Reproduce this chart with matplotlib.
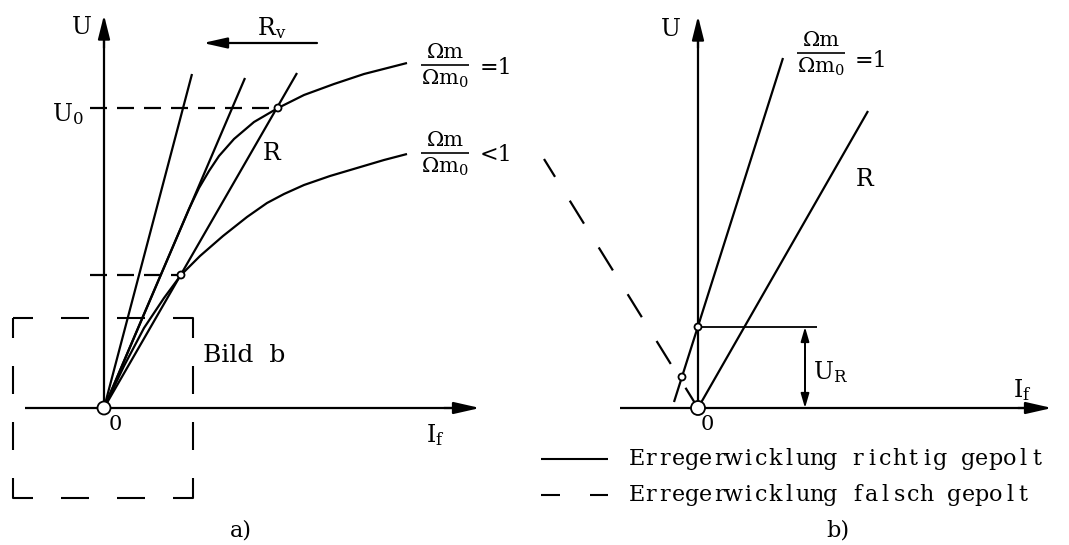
import matplotlib
matplotlib.use("Agg")
import matplotlib.pyplot as plt
from matplotlib.patches import Circle

plt.rcParams['font.family'] = 'DejaVu Serif'
plt.rcParams['mathtext.fontset'] = 'dejavuserif'
plt.rcParams['lines.scale_dashes'] = False
plt.rcParams['lines.solid_capstyle'] = 'butt'
plt.rcParams['lines.dash_capstyle'] = 'butt'

W, H = 1069, 545
PX = 0.72          # points per pixel at 100 dpi
LW = 1.6
FS = 17

# -----------------------
# a) Leerlaufkennlinien (Einheit: px ab Ursprung)
# -----------------------
U0 = 300            # Arbeitspunkt R
I_R = 174
U_low = 133         # Schnittpunkt bei Omega_m/Omega_m0 < 1
I_low = 77

# Widerstandsgeraden (Endpunkte), von steil nach flach
rv_end_I = [88, 141, 193]
rv_end_U = [334, 330, 335]

# Kennlinie Omega_m/Omega_m0 = 1
curve1_I = [0, 40, 85, 95, 105, 115, 130, 150, 174, 200, 230, 260, 303]
curve1_U = [0, 94, 199, 220, 237, 252, 269, 286, 300, 313, 324, 334, 345]

# Kennlinie Omega_m/Omega_m0 < 1
curve2_I = [0, 20, 40, 60, 77, 96, 119, 143, 163, 180, 200, 226, 253, 280, 303]
curve2_U = [0, 42, 80, 110, 133, 152, 172, 191, 205, 214, 223, 232, 240, 248, 254]

# Ausschnitt "Bild b"
box_half = 90

# -----------------------
# b) Selbsterregung aus Remanenz
# -----------------------
U_R = 81
field_I = [-24, 85]         # Omega_m/Omega_m0 = 1
field_U = [6, 350]
r_line_I = [0, 170]
r_line_U = [0, 297]
wrong_I = [-154, 0]         # falsch gepolt
wrong_U = [249, 0]
pt_b_I = [0, -16]
pt_b_U = [U_R, 31]
ur_line_end = 119
ur_dim_x = 107

legend_labels = ['Erregerwicklung richtig gepolt', 'Erregerwicklung falsch gepolt']

fig = plt.figure(figsize=(W / 100, H / 100), dpi=100)


def panel(ox, oy):
    ax = fig.add_axes([0, 0, 1, 1])
    ax.set_xlim(-ox, W - ox)
    ax.set_ylim(-(H - oy), oy)
    ax.set_facecolor('none')
    ax.axis('off')
    return ax


def arrow(ax, start, tip, length, half_width, lw=LW):
    style = '-|>,head_length=%.3f,head_width=%.3f' % (length * PX / 10, half_width * PX / 10)
    ax.annotate('', xy=tip, xytext=start,
                arrowprops=dict(arrowstyle=style, mutation_scale=10, lw=lw,
                                color='k', shrinkA=0, shrinkB=0))


def dot(ax, x, y, r, lw=1.3):
    ax.add_patch(Circle((x, y), r, fc='white', ec='k', lw=lw, zorder=6))


def dashes(on, off):
    return (0, (on * PX, off * PX))


def fraction(ax, x, y, half_width=24, size=15):
    # Omega_m / Omega_m0 as stacked text with a bar
    ax.text(x, y + 12, 'Ωm', fontsize=size, ha='center', va='center')
    ax.plot([x - half_width, x + half_width], [y, y], color='k', lw=1.2)
    ax.text(x, y - 14, r'$\mathregular{\Omega m_0}$', fontsize=size, ha='center', va='center')


def spaced_text(ax, x, y, s, pitch, size):
    # typewriter-like letter spacing
    for k, ch in enumerate(s):
        if ch != ' ':
            ax.text(x + (k + 0.5) * pitch, y, ch, fontsize=size, ha='center', va='center')


# ---------- a) ----------
ax = panel(104, 408)
ax.plot([-79, 360], [0, 0], color='k', lw=LW)
arrow(ax, (340, 0), (376, 0), 22, 5)
ax.plot([0, 0], [0, 375], color='k', lw=LW)
arrow(ax, (0, 360), (0, 393), 20, 5)

ax.plot([-14, I_R], [U0, U0], color='k', lw=LW, ls=dashes(17, 10))
ax.plot([-14, I_low], [U_low, U_low], color='k', lw=LW, ls=dashes(17, 10))

for i_end, u_end in zip(rv_end_I, rv_end_U):
    ax.plot([0, i_end], [0, u_end], color='k', lw=LW)
ax.plot(curve1_I, curve1_U, color='k', lw=LW)
ax.plot(curve2_I, curve2_U, color='k', lw=LW)

bx = [-box_half - 1, box_half - 1, box_half - 1, -box_half - 1, -box_half - 1]
by = [box_half, box_half, -box_half, -box_half, box_half]
ax.plot(bx, by, color='k', lw=1.5,
        ls=(20 * PX, (40 * PX, 28 * PX, 28 * PX, 28 * PX, 28 * PX, 28 * PX)))

dot(ax, I_R, U0, 3.5)
dot(ax, I_low, U_low, 3.5)
dot(ax, 0, 0, 6.5)

arrow(ax, (213, 365), (99, 365), 20, 4.5)
ax.text(168, 380, r'$\mathregular{R_v}$', fontsize=FS, ha='center', va='center')
ax.text(-22, 380, 'U', fontsize=FS, ha='center', va='center')
ax.text(-36, 294, r'$\mathregular{U_0}$', fontsize=FS, ha='center', va='center')
ax.text(168, 255, 'R', fontsize=FS, ha='center', va='center')
fraction(ax, 341, 343)
ax.text(376, 340, '=1', fontsize=FS - 1, ha='left', va='center')
fraction(ax, 341, 255)
ax.text(376, 253, '<1', fontsize=FS - 1, ha='left', va='center')
ax.text(99, 52, 'Bild  b', fontsize=18, ha='left', va='center')
ax.text(11, -17, '0', fontsize=FS - 2, ha='center', va='center')
ax.text(331, -27, r'$\mathregular{I_f}$', fontsize=FS, ha='center', va='center')
ax.text(137, -122, 'a)', fontsize=FS - 1, ha='center', va='center')

# ---------- b) ----------
bx_ax = panel(698, 408)
bx_ax.plot([-78, 330], [0, 0], color='k', lw=LW)
arrow(bx_ax, (320, 0), (354, 0), 22, 5)
bx_ax.plot([0, 0], [0, 375], color='k', lw=LW)
arrow(bx_ax, (0, 360), (0, 392), 20, 5)

bx_ax.plot(field_I, field_U, color='k', lw=LW)
bx_ax.plot(r_line_I, r_line_U, color='k', lw=LW)
bx_ax.plot(wrong_I, wrong_U, color='k', lw=LW, ls=(6 * PX, (27 * PX, 28 * PX)))
bx_ax.plot([0, ur_line_end], [U_R, U_R], color='k', lw=1.3)
bx_ax.plot([ur_dim_x, ur_dim_x], [10, U_R - 10], color='k', lw=1.3)
arrow(bx_ax, (ur_dim_x, 30), (ur_dim_x, U_R), 12, 3.5, lw=1.3)
arrow(bx_ax, (ur_dim_x, 50), (ur_dim_x, 0), 12, 3.5, lw=1.3)

for x, y in zip(pt_b_I, pt_b_U):
    dot(bx_ax, x, y, 3.5)
dot(bx_ax, 0, 0, 7)

bx_ax.text(-27, 378, 'U', fontsize=FS, ha='center', va='center')
fraction(bx_ax, 123, 355)
bx_ax.text(157, 347, '=1', fontsize=FS - 1, ha='left', va='center')
bx_ax.text(167, 228, 'R', fontsize=FS, ha='center', va='center')
bx_ax.text(133, 36, r'$\mathregular{U_R}$', fontsize=FS, ha='center', va='center')
bx_ax.text(324, 18, r'$\mathregular{I_f}$', fontsize=FS, ha='center', va='center')
bx_ax.text(9, -17, '0', fontsize=FS - 2, ha='center', va='center')

# Legende
bx_ax.plot([-157, -90], [-51, -51], color='k', lw=1.5)
bx_ax.plot([-157, -90], [-87, -87], color='k', lw=1.5, ls=(0, (19 * PX, 30 * PX)))
spaced_text(bx_ax, -68, -51, legend_labels[0], 13.8, 16)
spaced_text(bx_ax, -68, -87, legend_labels[1], 13.8, 16)
bx_ax.text(140, -122, 'b)', fontsize=FS - 1, ha='center', va='center')

fig.savefig('out.png', dpi=100)
